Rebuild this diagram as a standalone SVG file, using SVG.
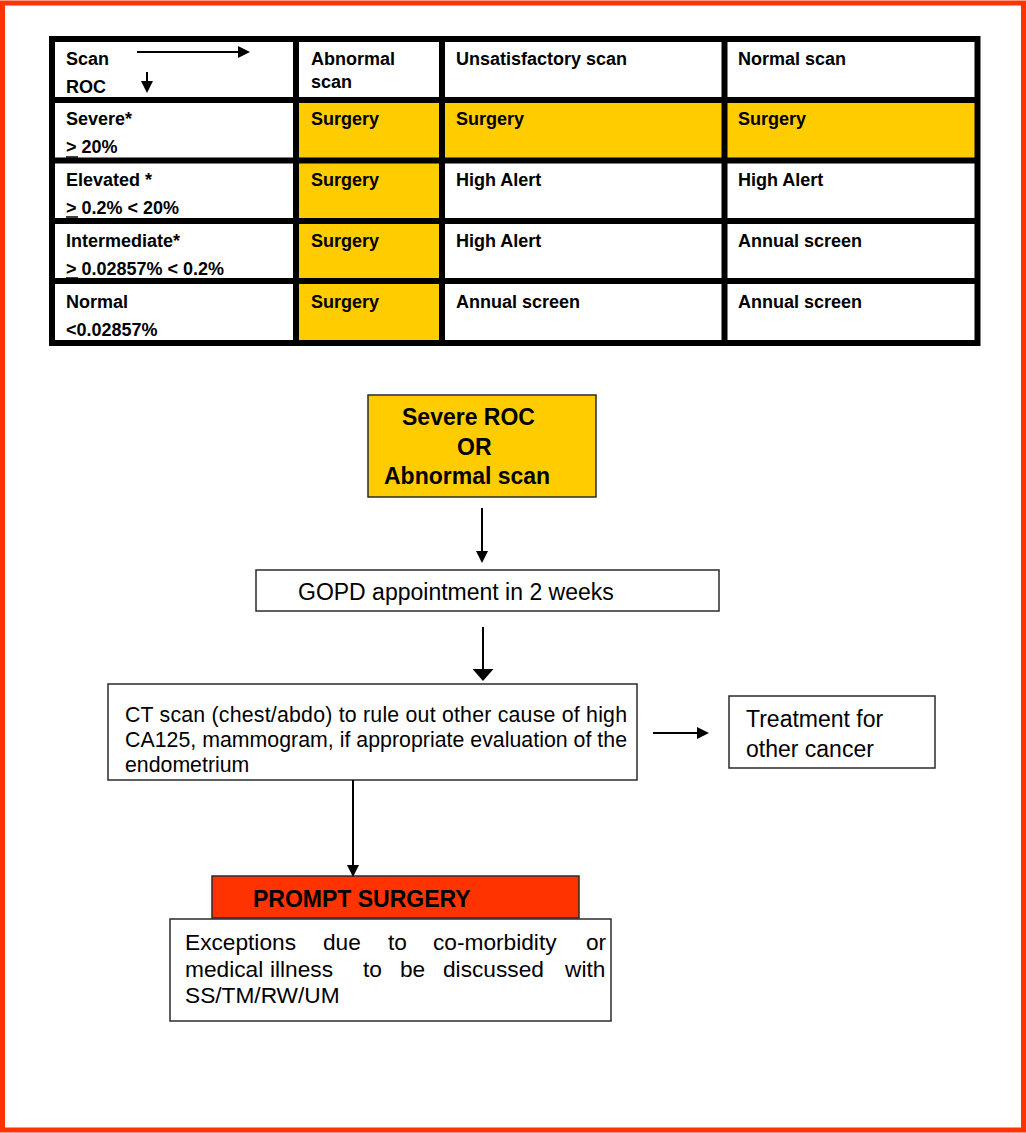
<svg xmlns="http://www.w3.org/2000/svg" width="1026" height="1133" viewBox="0 0 1026 1133">
  <style>
    .tb { font-family: "Liberation Sans", Arial, sans-serif; font-weight: bold; font-size: 18px; fill: #000; }
    .grid { stroke: #000; stroke-width: 6; fill: none; }
    .yel { fill: #FFCC00; }
    .box { stroke: #2b2b2b; stroke-width: 1.5; }
    .fr { font-family: "Liberation Sans", Arial, sans-serif; font-size: 23px; fill: #000; }
    .fb { font-family: "Liberation Sans", Arial, sans-serif; font-weight: bold; font-size: 23px; fill: #000; }
    .conn { stroke: #000; stroke-width: 2; fill: none; }
  </style>
  <defs>
    <marker id="ah" markerUnits="userSpaceOnUse" markerWidth="12" markerHeight="12" viewBox="0 0 12 12" refX="0" refY="6" orient="auto">
      <path d="M0,0 L12,6 L0,12 Z" fill="#000"/>
    </marker>
    <marker id="ahBig" markerUnits="userSpaceOnUse" markerWidth="12" markerHeight="21" viewBox="0 0 12 21" refX="0" refY="10.5" orient="auto">
      <path d="M0,0 L12,10.5 L0,21 Z" fill="#000"/>
    </marker>
  </defs>

  <rect x="0" y="0" width="1026" height="1133" fill="#fff"/>
  <rect id="frame" x="2.5" y="3" width="1021" height="1127" fill="none" stroke="#FF3300" stroke-width="5"/>

  <!-- ROC / scan table -->
  <g id="roc-table">
    <rect class="yel" x="296" y="100" width="146" height="243"/>
    <rect class="yel" x="442" y="100" width="535.5" height="60.5"/>
    <g class="grid">
      <rect x="52" y="39" width="925.5" height="304"/>
      <line x1="296" y1="39" x2="296" y2="343"/>
      <line x1="442" y1="39" x2="442" y2="343"/>
      <line x1="724.5" y1="39" x2="724.5" y2="343"/>
      <line x1="52" y1="100" x2="977.5" y2="100"/>
      <line x1="52" y1="160.5" x2="977.5" y2="160.5"/>
      <line x1="52" y1="221" x2="977.5" y2="221"/>
      <line x1="52" y1="281" x2="977.5" y2="281"/>
    </g>
    <g id="row-header">
      <text class="tb" x="66" y="65">Scan</text>
      <text class="tb" x="66" y="93">ROC</text>
      <line x1="137" y1="52" x2="238" y2="52" stroke="#000" stroke-width="2" marker-end="url(#ah)"/>
      <line x1="147" y1="72" x2="147" y2="81" stroke="#000" stroke-width="2" marker-end="url(#ah)"/>
      <text class="tb" x="311" y="65">Abnormal</text>
      <text class="tb" x="311" y="88">scan</text>
      <text class="tb" x="456" y="65">Unsatisfactory scan</text>
      <text class="tb" x="738" y="65">Normal scan</text>
    </g>
    <g id="row-severe">
      <text class="tb" x="66" y="125">Severe*</text>
      <text class="tb" x="66" y="153">&gt; 20%</text>
      <line x1="66" y1="157" x2="78" y2="157" stroke="#000" stroke-width="1.5"/>
      <text class="tb" x="311" y="125">Surgery</text>
      <text class="tb" x="456" y="125">Surgery</text>
      <text class="tb" x="738" y="125">Surgery</text>
    </g>
    <g id="row-elevated">
      <text class="tb" x="66" y="186">Elevated *</text>
      <text class="tb" x="66" y="214">&gt; 0.2% &lt; 20%</text>
      <line x1="66" y1="217" x2="78" y2="217" stroke="#000" stroke-width="1.5"/>
      <text class="tb" x="311" y="186">Surgery</text>
      <text class="tb" x="456" y="186">High Alert</text>
      <text class="tb" x="738" y="186">High Alert</text>
    </g>
    <g id="row-intermediate">
      <text class="tb" x="66" y="247">Intermediate*</text>
      <text class="tb" x="66" y="275">&gt; 0.02857% &lt; 0.2%</text>
      <line x1="66" y1="278" x2="78" y2="278" stroke="#000" stroke-width="1.5"/>
      <text class="tb" x="311" y="247">Surgery</text>
      <text class="tb" x="456" y="247">High Alert</text>
      <text class="tb" x="738" y="247">Annual screen</text>
    </g>
    <g id="row-normal">
      <text class="tb" x="66" y="308">Normal</text>
      <text class="tb" x="66" y="336">&lt;0.02857%</text>
      <text class="tb" x="311" y="308">Surgery</text>
      <text class="tb" x="456" y="308">Annual screen</text>
      <text class="tb" x="738" y="308">Annual screen</text>
    </g>
  </g>

  <!-- Flowchart nodes -->
  <g id="n-start">
    <rect class="yel box" x="368" y="395" width="228" height="102"/>
    <text class="fb" x="402" y="425">Severe ROC</text>
    <text class="fb" x="457" y="455">OR</text>
    <text class="fb" x="384" y="484">Abnormal scan</text>
  </g>
  <g id="n-gopd">
    <rect class="box" fill="#fff" x="256" y="570" width="463" height="41"/>
    <text class="fr" x="298" y="600">GOPD appointment in 2 weeks</text>
  </g>
  <g id="n-ct">
    <rect class="box" fill="#fff" x="108" y="684" width="529" height="96"/>
    <text class="fr" style="font-size:21.3px" x="125" y="722" textLength="502" lengthAdjust="spacing">CT scan (chest/abdo) to rule out other cause of high</text>
    <text class="fr" style="font-size:21.3px" x="125" y="747" textLength="502" lengthAdjust="spacing">CA125, mammogram, if appropriate evaluation of the</text>
    <text class="fr" style="font-size:21.3px" x="125" y="772">endometrium</text>
  </g>
  <g id="n-treatment">
    <rect class="box" fill="#fff" x="729" y="696" width="206" height="72"/>
    <text class="fr" x="746" y="727">Treatment for</text>
    <text class="fr" x="746" y="757">other cancer</text>
  </g>
  <g id="n-prompt">
    <rect class="box" fill="#FF3300" x="212" y="876" width="367" height="42"/>
    <text class="fb" x="253" y="907">PROMPT SURGERY</text>
  </g>
  <g id="n-exceptions">
    <rect class="box" fill="#fff" x="170" y="919" width="441" height="102"/>
    <text class="fr" style="font-size:22.7px" y="950"><tspan x="185">Exceptions</tspan> <tspan x="323">due</tspan> <tspan x="388">to</tspan> <tspan x="433">co-morbidity</tspan> <tspan x="586">or</tspan></text>
    <text class="fr" style="font-size:22.7px" y="977"><tspan x="185">medical</tspan> <tspan x="270">illness</tspan> <tspan x="363">to</tspan> <tspan x="400">be</tspan> <tspan x="443">discussed</tspan> <tspan x="565">with</tspan></text>
    <text class="fr" style="font-size:22.7px" x="185" y="1003">SS/TM/RW/UM</text>
  </g>

  <!-- Connectors -->
  <g id="connectors">
    <line class="conn" x1="482" y1="508" x2="482" y2="551" marker-end="url(#ah)"/>
    <line class="conn" x1="483" y1="627" x2="483" y2="669" stroke-width="3" marker-end="url(#ahBig)"/>
    <line class="conn" x1="653" y1="733" x2="697" y2="733" marker-end="url(#ah)"/>
    <line class="conn" x1="353" y1="780" x2="353" y2="865" stroke-width="1.5" marker-end="url(#ah)"/>
  </g>
</svg>
